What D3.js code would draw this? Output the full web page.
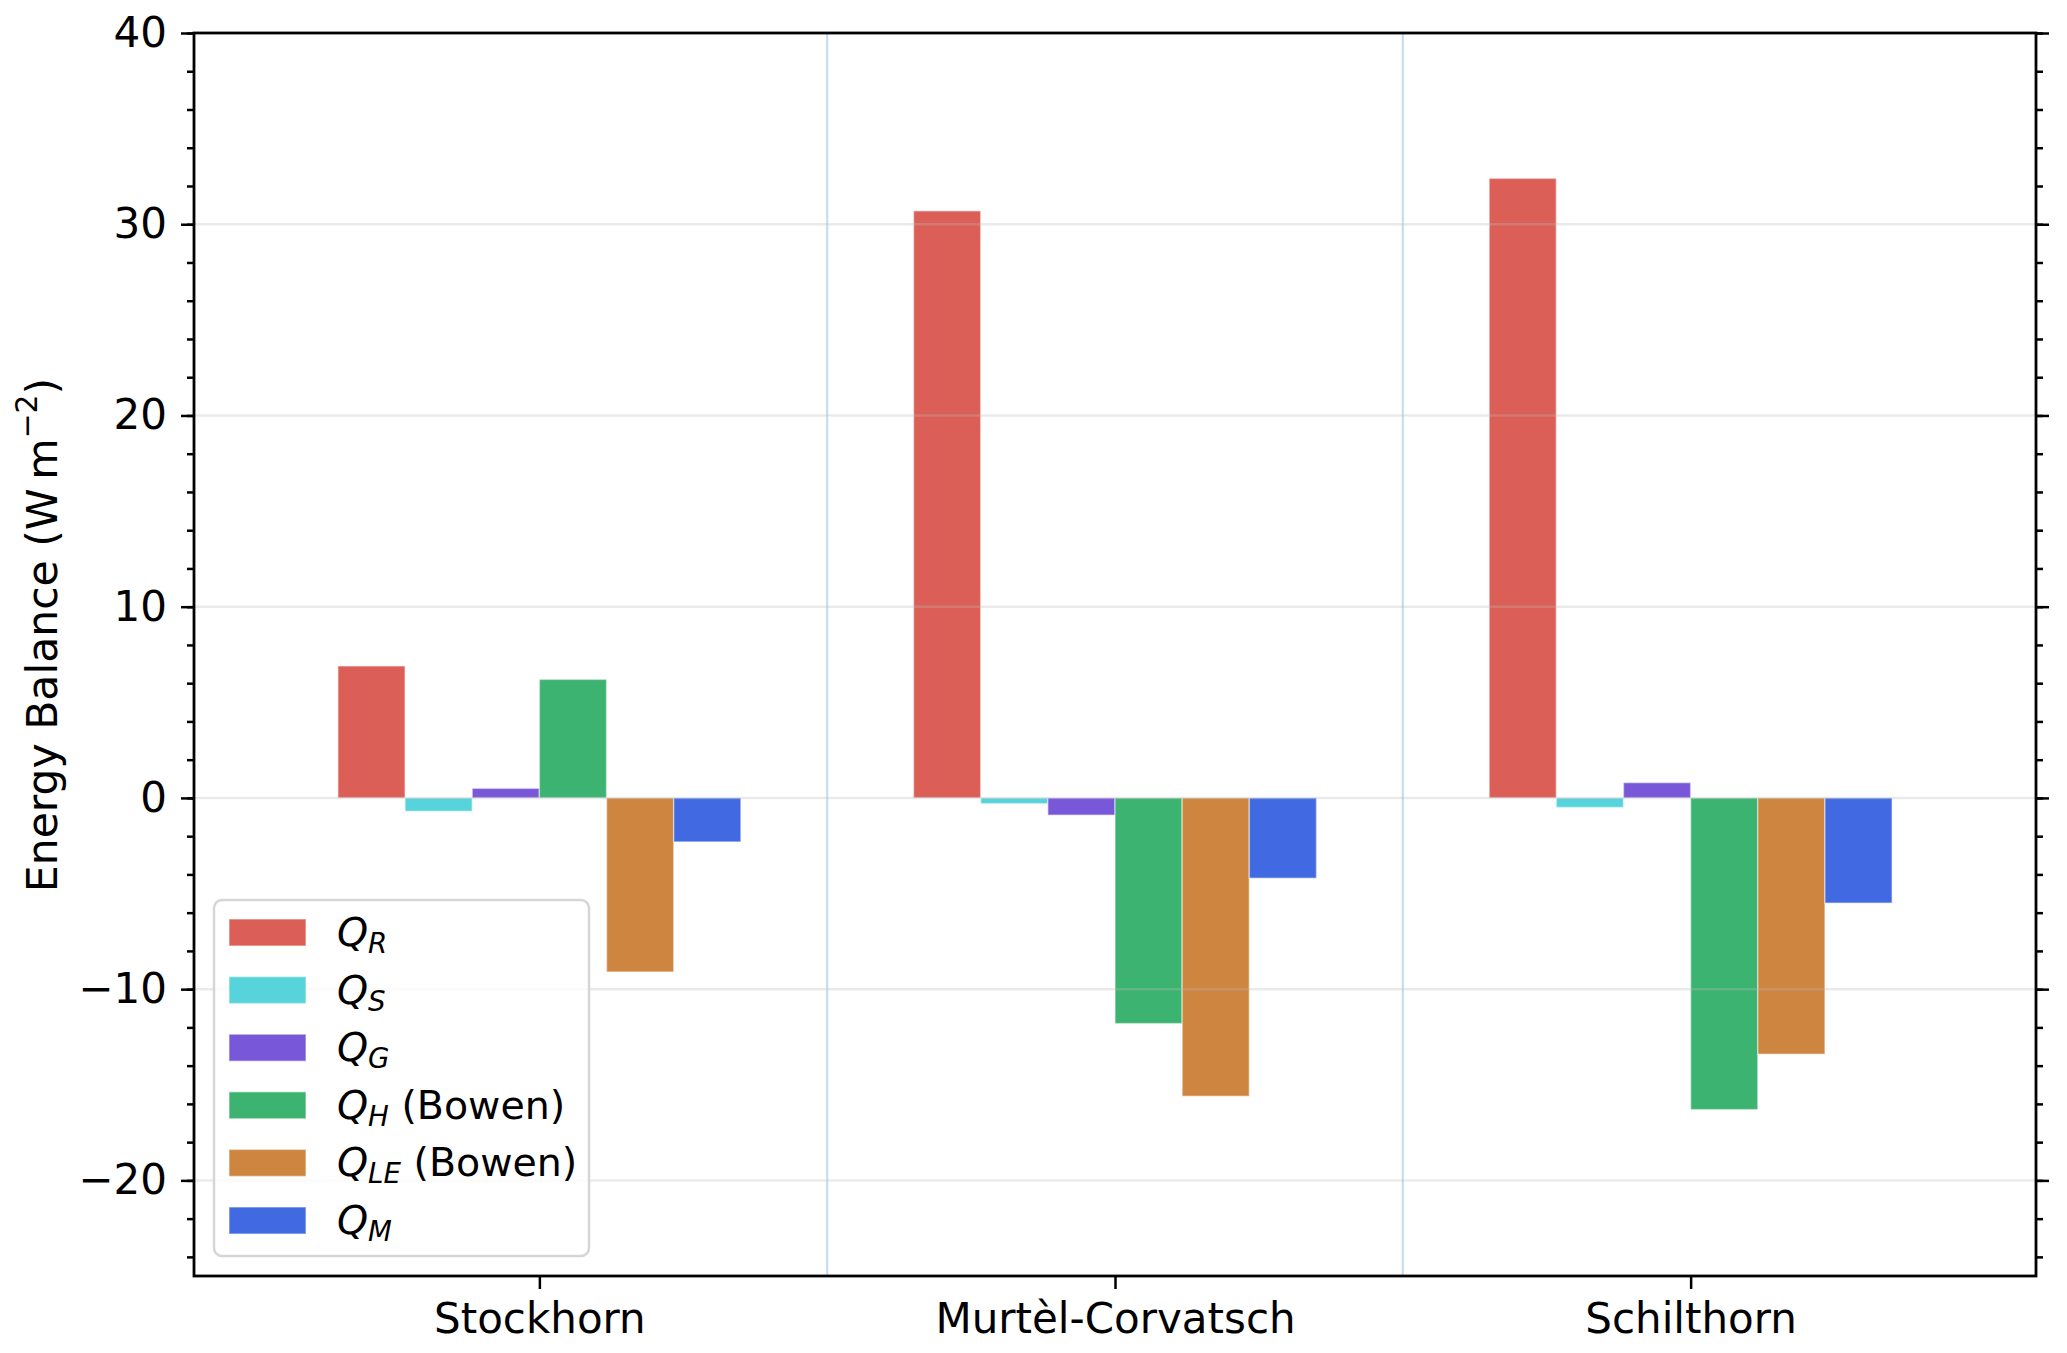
<!DOCTYPE html>
<html>
<head>
<meta charset="utf-8">
<script src="https://cdn.jsdelivr.net/npm/d3@7"></script>
<style>
  body { margin: 0; background: #fff; }
  svg text { font-family: "DejaVu Sans", sans-serif; fill: #000; }
</style>
</head>
<body>
<div id="chart"></div>
<script>
// sites along the x axis
var sites = ["Stockhorn", "Murtèl-Corvatsch", "Schilthorn"];

// energy balance terms, one array per series (W m-2)
var seriesNames = ["QR", "QS", "QG", "QH", "QLE", "QM"];
var qR  = [6.9, 30.7, 32.4];
var qS  = [-0.7, -0.3, -0.5];
var qG  = [0.5, -0.9, 0.8];
var qH  = [6.2, -11.8, -16.3];
var qLE = [-9.1, -15.6, -13.4];
var qM  = [-2.3, -4.2, -5.5];

// legend labels: main letter, subscript, suffix
var legendSub = ["R", "S", "G", "H", "LE", "M"];
var legendSuffix = ["", "", "", " (Bowen)", " (Bowen)", ""];

var yMajorTicks = [-20, -10, 0, 10, 20, 30, 40];
var yMinorTicks = d3.range(-24, 41, 2);

var colors = ["#db5f57", "#57d3db", "#7857d9", "#3cb371", "#cd853f", "#4169e1"];

var allValues = [qR, qS, qG, qH, qLE, qM];

var W = 2067, H = 1353;
var mLeft = 194, mRight = 2036, mTop = 33, mBottom = 1276;
var fs = 42;     // tick labels
var fsLeg = 39.5; // legend

var svg = d3.select("#chart").append("svg")
  .attr("width", W).attr("height", H);

var x = d3.scalePoint().domain(sites).range([mLeft, mRight]).padding(0.6);
var step = x.step();
var xInner = d3.scaleBand().domain(seriesNames).range([-0.35 * step, 0.35 * step]);
var y = d3.scaleLinear().domain([-25, 40]).range([mBottom, mTop]);

// light separators between sites
svg.append("g").selectAll("line")
  .data([0.5, 1.5])
  .enter().append("line")
  .attr("x1", function (d) { return x(sites[0]) + d * step; })
  .attr("x2", function (d) { return x(sites[0]) + d * step; })
  .attr("y1", mTop).attr("y2", mBottom)
  .attr("stroke", "#c2dbef").attr("stroke-width", 2);

// bars
var rows = [];
sites.forEach(function (s, i) {
  seriesNames.forEach(function (n, j) {
    rows.push({ site: s, name: n, value: allValues[j][i], color: colors[j] });
  });
});

svg.append("g").selectAll("rect")
  .data(rows)
  .enter().append("rect")
  .attr("x", function (d) { return x(d.site) + xInner(d.name); })
  .attr("width", xInner.bandwidth())
  .attr("y", function (d) { return y(Math.max(0, d.value)); })
  .attr("height", function (d) { return Math.abs(y(d.value) - y(0)); })
  .attr("fill", function (d) { return d.color; })
  .attr("stroke", "#fff").attr("stroke-opacity", 0.45).attr("stroke-width", 1.5);

// grid on top of bars
svg.append("g").selectAll("line")
  .data(yMajorTicks.filter(function (d) { return d < 40; }))
  .enter().append("line")
  .attr("x1", mLeft).attr("x2", mRight)
  .attr("y1", function (d) { return y(d); }).attr("y2", function (d) { return y(d); })
  .attr("stroke", "#bbb").attr("stroke-opacity", 0.3).attr("stroke-width", 2.5);

// axes
function styleAxis(g) {
  g.select(".domain").remove();
  g.selectAll(".tick line").attr("stroke", "#000").attr("stroke-width", 2.5);
  g.selectAll(".tick text").attr("font-size", fs).attr("font-family", "DejaVu Sans");
}

svg.append("g").attr("transform", "translate(" + mLeft + ",0)")
  .call(d3.axisLeft(y).tickValues(yMinorTicks).tickSize(7).tickFormat(""))
  .call(styleAxis);
svg.append("g").attr("transform", "translate(" + mLeft + ",0)")
  .call(d3.axisLeft(y).tickValues(yMajorTicks).tickSize(13).tickPadding(14).tickFormat(d3.format("d")))
  .call(styleAxis);
svg.append("g").attr("transform", "translate(" + mRight + ",0)")
  .call(d3.axisRight(y).tickValues(yMinorTicks).tickSize(7).tickFormat(""))
  .call(styleAxis);
svg.append("g").attr("transform", "translate(" + mRight + ",0)")
  .call(d3.axisRight(y).tickValues(yMajorTicks).tickSize(13).tickFormat(""))
  .call(styleAxis);
svg.append("g").attr("transform", "translate(0," + mBottom + ")")
  .call(d3.axisBottom(x).tickSize(13).tickPadding(14))
  .call(styleAxis);

// frame
svg.append("rect")
  .attr("x", mLeft).attr("y", mTop)
  .attr("width", mRight - mLeft).attr("height", mBottom - mTop)
  .attr("fill", "none").attr("stroke", "#000").attr("stroke-width", 2.8);

// y label
var fsY = 42.5;
var yl = svg.append("text")
  .attr("transform", "translate(42," + 635 + ") rotate(-90)")
  .attr("text-anchor", "middle")
  .attr("dominant-baseline", "central")
  .attr("font-size", fsY);
yl.append("tspan").text("Energy Balance (W\u2009m");
yl.append("tspan").attr("font-size", fsY * 0.7).attr("dy", -fsY * 0.38).text("\u22122");
yl.append("tspan").attr("dy", fsY * 0.38).text(")");

// legend
var lg = svg.append("g");
lg.append("rect")
  .attr("x", 214).attr("y", 900).attr("width", 375).attr("height", 356)
  .attr("rx", 8).attr("fill", "#fff").attr("fill-opacity", 0.8)
  .attr("stroke", "#d6d6d6").attr("stroke-width", 2.5);

var items = lg.selectAll("g.item")
  .data(seriesNames)
  .enter().append("g")
  .attr("transform", function (d, i) { return "translate(0," + (932 + i * 57.6) + ")"; });

items.append("rect")
  .attr("x", 229).attr("y", -13).attr("width", 77).attr("height", 27)
  .attr("fill", function (d, i) { return colors[i]; })
  .attr("stroke", "#fff").attr("stroke-opacity", 0.45).attr("stroke-width", 1.5);

var lt = items.append("text")
  .attr("x", 337).attr("y", 14)
  .attr("font-size", fsLeg);
lt.append("tspan").attr("font-style", "italic").text("Q");
lt.append("tspan").attr("font-style", "italic").attr("font-size", fsLeg * 0.7).attr("dy", 7)
  .text(function (d, i) { return legendSub[i]; });
lt.append("tspan").attr("dy", -7)
  .text(function (d, i) { return legendSuffix[i]; });
</script>
</body>
</html>
